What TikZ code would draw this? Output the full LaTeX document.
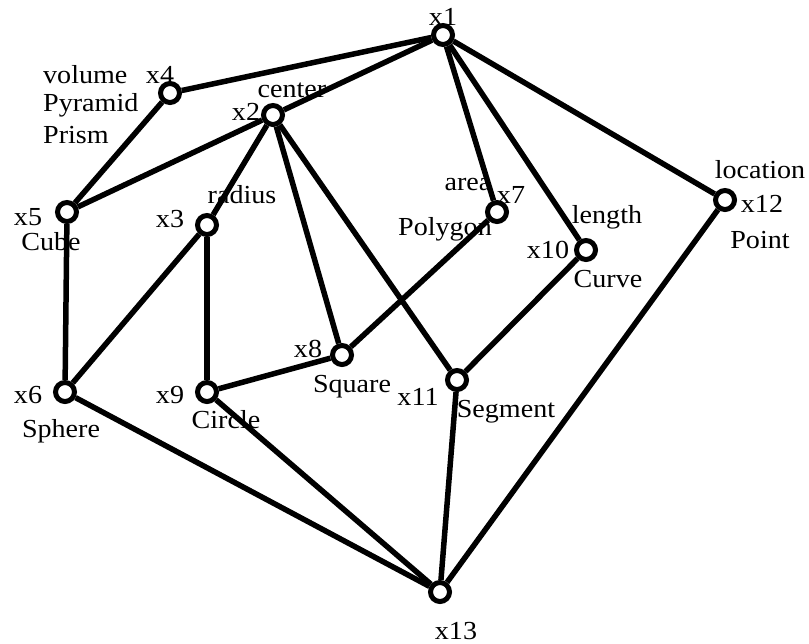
\documentclass[tikz,border=0pt]{standalone}
\usepackage{fontspec}
\setmainfont[FakeStretch=1.08]{Liberation Serif}
\begin{document}
\begin{tikzpicture}[x=1pt,y=-1pt,
  vert/.style={circle,draw,fill=white,line width=5pt,minimum size=19pt,inner sep=0pt},
  edge/.style={line width=5.5pt},
  lab/.style={font=\fontsize{26}{28}\selectfont,inner sep=0pt,anchor=base},
  labw/.style={lab,anchor=base west}]
\useasboundingbox (0,0) rectangle (809,643);
\node[vert] (x1) at (443,35) {};
\node[vert] (x2) at (273,115) {};
\node[vert] (x3) at (207,225) {};
\node[vert] (x4) at (170,93) {};
\node[vert] (x5) at (67,212) {};
\node[vert] (x6) at (65,392) {};
\node[vert] (x7) at (497,212) {};
\node[vert] (x8) at (342,355) {};
\node[vert] (x9) at (207,392) {};
\node[vert] (x10) at (586,250) {};
\node[vert] (x11) at (457,380) {};
\node[vert] (x12) at (725,200) {};
\node[vert] (x13) at (440,592) {};
\foreach \a/\b in {x1/x4,x1/x2,x1/x7,x1/x10,x1/x12,x4/x5,x2/x5,x2/x3,x2/x8,x2/x11,
  x3/x9,x3/x6,x5/x6,x7/x8,x8/x9,x10/x11,x6/x13,x9/x13,x11/x13,x12/x13}
  \draw[edge] (\a) -- (\b);
\node[lab] (l1) at (443,25) {x1};
\node[lab] (l4) at (160,83) {x4};
\node[labw] (lvol) at (43,83) {volume};
\node[labw] (lpyr) at (43,111) {Pyramid};
\node[labw] (lpri) at (43,143) {Prism};
\node[lab] (lcen) at (292,97) {center};
\node[lab] (l2) at (246,120) {x2};
\node[lab] (lrad) at (242,203) {radius};
\node[lab] (l3) at (170,227) {x3};
\node[lab] (l5) at (28,225) {x5};
\node[lab] (lcube) at (51,250) {Cube};
\node[lab] (l6) at (28,403) {x6};
\node[lab] (lsph) at (61,437) {Sphere};
\node[lab] (larea) at (468,190) {area};
\node[lab] (l7) at (511,203) {x7};
\node[lab] (lpoly) at (445,235) {Polygon};
\node[lab] (llen) at (607,223) {length};
\node[lab] (l10) at (548,258) {x10};
\node[lab] (lcur) at (608,287) {Curve};
\node[lab] (lloc) at (760,178) {location};
\node[lab] (l12) at (762,212) {x12};
\node[lab] (lpt) at (760,248) {Point};
\node[lab] (l8) at (308,357) {x8};
\node[lab] (lsq) at (352,392) {Square};
\node[lab] (l9) at (170,403) {x9};
\node[lab] (lcir) at (226,428) {Circle};
\node[lab] (l11) at (418,405) {x11};
\node[lab] (lseg) at (506,417) {Segment};
\node[lab] (l13) at (456,639) {x13};
\end{tikzpicture}
\end{document}
